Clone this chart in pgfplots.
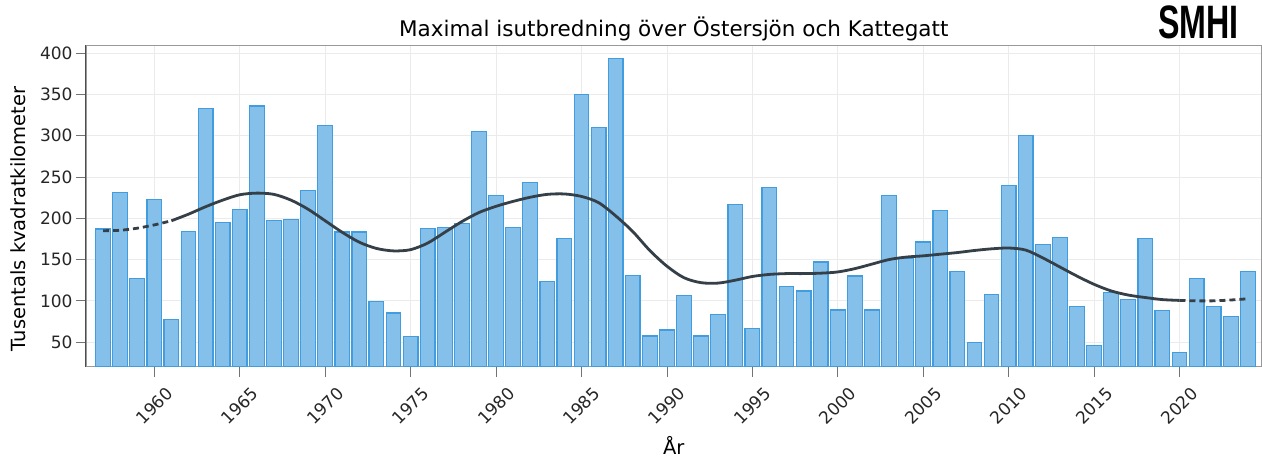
\documentclass[border=0pt]{standalone}
\usepackage{fontspec}
\setmainfont{DejaVu Sans}
\newfontfamily\logofont{Liberation Sans}
\usepackage{graphicx}
\usepackage{pgfplots}
\pgfplotsset{compat=1.18}
\definecolor{barfill}{RGB}{133,192,234}
\definecolor{baredge}{RGB}{66,157,222}
\definecolor{trend}{RGB}{53,63,72}
\begin{document}
\begin{tikzpicture}
\begin{axis}[
  scale only axis,
  width=1176pt, height=322pt,
  xmin=1956.0, xmax=2024.8,
  ymin=20, ymax=410,
  xtick={1960,1965,...,2020},
  ytick={50,100,...,400},
  xtick pos=bottom, ytick pos=left,
  tick align=outside,
  major tick length=10pt,
  tick style={draw=black!55, line width=0.8pt},
  grid=major,
  major grid style={draw=black!8, line width=0.8pt},
  axis line style={draw=black!40, line width=0.8pt},
  /pgf/number format/assume math mode=true,
  /pgf/number format/1000 sep={},
  ticklabel style={font=\fontsize{17}{20}\selectfont, text=black!85},
  xticklabel style={yshift=-29pt, rotate=45, anchor=center},
  title={Maximal isutbredning över Östersjön och Kattegatt},
  title style={font=\fontsize{21.5}{25}\selectfont, at={(axis description cs:0.5,1)}, anchor=center, yshift=10pt},
  xlabel={År},
  xlabel style={font=\fontsize{19.5}{23}\selectfont, at={(axis description cs:0.5,-0.243)}, anchor=center},
  ylabel={Tusentals kvadratkilometer},
  ylabel style={font=\fontsize{19.5}{23}\selectfont, at={(axis description cs:-0.0578,0.46)}, anchor=center},
]
\addplot[ybar, bar width=0.86, fill=barfill, draw=baredge, line width=1.2pt] coordinates {
(1957,187) (1958,231.6) (1959,127.2) (1960,223.1) (1961,77.1) (1962,183.9)
(1963,333.1) (1964,195.2) (1965,211) (1966,336) (1967,197.2) (1968,198.8)
(1969,233.6) (1970,312.9) (1971,183.5) (1972,183.5) (1973,98.9) (1974,85.2)
(1975,56.8) (1976,187.9) (1977,189.1) (1978,193.6) (1979,305.6) (1980,227.2)
(1981,189.1) (1982,243) (1983,123.2) (1984,175.4) (1985,350.1) (1986,309.7)
(1987,393.4) (1988,130.8) (1989,57.3) (1990,64.6) (1991,106.2) (1992,57.3)
(1993,83.5) (1994,216.6) (1995,66.5) (1996,237.3) (1997,117.1) (1998,111.9)
(1999,147.1) (2000,88.8) (2001,130.1) (2002,88.8) (2003,227.2) (2004,151)
(2005,171.4) (2006,209.8) (2007,135.3) (2008,49.2) (2009,107.8) (2010,239.3)
(2011,300) (2012,168.1) (2013,176.6) (2014,93.3) (2015,45.5) (2016,109.8)
(2017,101.7) (2018,175.4) (2019,88.4) (2020,37) (2021,126.8) (2022,93.3)
(2023,81.1) (2024,135.3)
};
\addplot[smooth, draw=trend, line width=2.8pt, dash pattern=on 6pt off 4pt] coordinates {
(1957,185) (1958,185.5) (1959,188) (1960,192) (1961,197)
};
\addplot[smooth, draw=trend, line width=2.8pt] coordinates {
(1961,197) (1962,205) (1963,214) (1964,222) (1965,228.5) (1966,230.5) (1967,229)
(1968,222) (1969,211) (1970,197) (1971,183) (1972,171) (1973,163.5) (1974,160.5)
(1975,162) (1976,170) (1977,183) (1978,196) (1979,207) (1980,214.5) (1981,220.5)
(1982,225.5) (1983,229) (1984,229.5) (1985,226.5) (1986,219) (1987,203) (1988,184)
(1989,161) (1990,142) (1991,128) (1992,122) (1993,121.5) (1994,125) (1995,129.5)
(1996,132) (1997,133) (1998,133) (1999,133.5) (2000,135) (2001,139) (2002,144.5)
(2003,150) (2004,153) (2005,154.5) (2006,156.5) (2007,158.5) (2008,161) (2009,163)
(2010,164) (2011,161.5) (2012,152) (2013,141) (2014,130) (2015,120) (2016,112)
(2017,107) (2018,104) (2019,101.5) (2020,100.5)
};
\addplot[smooth, draw=trend, line width=2.8pt, dash pattern=on 6pt off 4pt] coordinates {
(2020,100.5) (2021,100) (2022,100) (2023,101) (2024,102.5)
};
\end{axis}
\draw[draw=black!70, line width=1pt] (current axis.south west) -- (current axis.north west);
\node[anchor=center, inner sep=0pt] at ([shift={(-63pt,23pt)}]current axis.north east)
  {\scalebox{0.7}[1.02]{\logofont\bfseries\fontsize{46}{46}\selectfont SMHI}};
\pgfresetboundingbox
\useasboundingbox ([shift={(-86pt,-91pt)}]current axis.south west) rectangle ([shift={(0.5pt,45pt)}]current axis.north east);
\end{tikzpicture}
\end{document}
